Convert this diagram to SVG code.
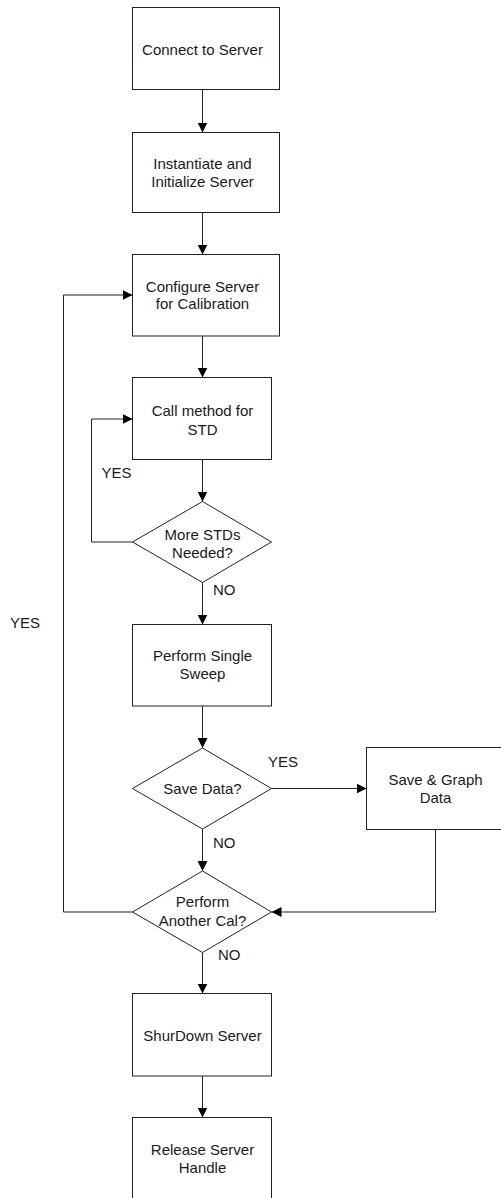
<svg xmlns="http://www.w3.org/2000/svg" width="501" height="1198" viewBox="0 0 501 1198">
<style>
.n{fill:#fff;stroke:#222;stroke-width:1}
.t{font-family:"Liberation Sans",Arial,sans-serif;font-size:15px;fill:#1a1a1a;text-anchor:middle}
.l{font-family:"Liberation Sans",Arial,sans-serif;font-size:15px;fill:#1a1a1a}
.c{fill:none;stroke:#222;stroke-width:1;marker-end:url(#ah)}
.cn{fill:none;stroke:#222;stroke-width:1}
</style>
<defs>
<marker id="ah" markerUnits="userSpaceOnUse" markerWidth="10" markerHeight="10" refX="10" refY="5" orient="auto">
<path d="M0,0 L10,5 L0,10 z" fill="#000"/>
</marker>
</defs>
<rect width="501" height="1198" fill="#fff"/>
<g id="connectors">
<path class="c" d="M202.5,89.5 V132.5"/>
<path class="c" d="M202.5,212.5 V254.5"/>
<path class="c" d="M202.5,336 V377.5"/>
<path class="c" d="M202.5,459.5 V501.5"/>
<path class="c" d="M132.5,542 H91.5 V419 H132.5"/>
<path class="c" d="M202.5,582.5 V624.5"/>
<path class="c" d="M202.5,706 V748"/>
<path class="c" d="M271.5,788.5 H366.5"/>
<path class="c" d="M202.5,829 V871"/>
<path class="c" d="M435.5,829.5 V912 H271.5"/>
<path class="c" d="M132.5,912 H63.5 V295 H132.5"/>
<path class="c" d="M202.5,952.5 V993.5"/>
<path class="c" d="M202.5,1076 V1117.5"/>
<text class="l" x="101.5" y="477.5">YES</text>
<text class="l" x="213" y="594.5">NO</text>
<text class="l" x="268" y="766.5">YES</text>
<text class="l" x="213" y="847.5">NO</text>
<text class="l" x="218" y="959.5">NO</text>
<text class="l" x="10" y="627.5">YES</text>
</g>
<g id="n1"><rect class="n" x="132.5" y="7.5" width="147" height="82"/><text class="t" x="202.5" y="54.5">Connect to Server</text></g>
<g id="n2"><rect class="n" x="132.5" y="132.5" width="147" height="80"/><text class="t" x="202.5" y="168.5">Instantiate and</text><text class="t" x="202.5" y="187">Initialize Server</text></g>
<g id="n3"><rect class="n" x="132.5" y="254.5" width="147" height="81.5"/><text class="t" x="202.5" y="291.5">Configure Server</text><text class="t" x="202.5" y="309">for Calibration</text></g>
<g id="n4"><rect class="n" x="132.5" y="377.5" width="139" height="82"/><text class="t" x="202.5" y="415.5">Call method for</text><text class="t" x="202.5" y="434.5">STD</text></g>
<g id="d1"><polygon class="n" points="202.5,501.5 271.5,542 202.5,582.5 132.5,542"/><text class="t" x="202.5" y="539.5">More STDs</text><text class="t" x="202.5" y="558">Needed?</text></g>
<g id="n5"><rect class="n" x="132.5" y="624.5" width="139" height="81.5"/><text class="t" x="202.5" y="660.5">Perform Single</text><text class="t" x="202.5" y="678.5">Sweep</text></g>
<g id="d2"><polygon class="n" points="202.5,748 271.5,788.5 202.5,829 132.5,788.5"/><text class="t" x="202.5" y="793.5">Save Data?</text></g>
<g id="n6"><rect class="n" x="366.5" y="747.5" width="150" height="82"/><text class="t" x="435.5" y="784.5">Save &amp; Graph</text><text class="t" x="435.5" y="802.5">Data</text></g>
<g id="d3"><polygon class="n" points="202.5,871 271.5,912 202.5,952.5 132.5,912"/><text class="t" x="202.5" y="907">Perform</text><text class="t" x="202.5" y="925.5">Another Cal?</text></g>
<g id="n7"><rect class="n" x="132.5" y="993.5" width="139" height="82.5"/><text class="t" x="202.5" y="1040.5">ShurDown Server</text></g>
<g id="n8"><rect class="n" x="132.5" y="1117.5" width="139" height="100"/><text class="t" x="202.5" y="1154.5">Release Server</text><text class="t" x="202.5" y="1173">Handle</text></g>
</svg>
